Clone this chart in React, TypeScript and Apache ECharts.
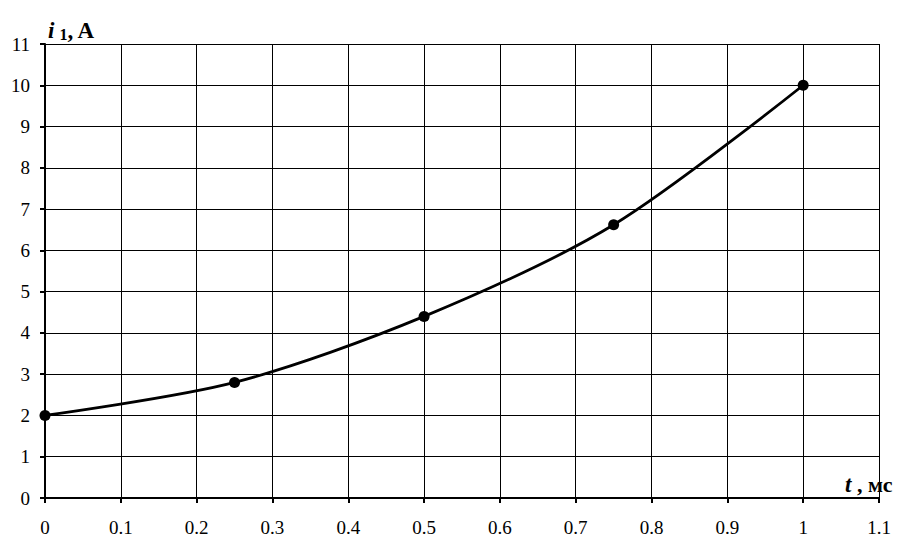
import React, { useEffect, useRef } from "react";
import * as echarts from "echarts";

const tValues = [0, 0.25, 0.5, 0.75, 1];
const iValues = [2, 2.8, 4.4, 6.62, 10];
const xTicks = { min: 0, max: 1.1, interval: 0.1 };
const yTicks = { min: 0, max: 11, interval: 1 };

const FONT = "'Liberation Serif', 'Times New Roman', serif";

export default function App() {
  const ref = useRef<HTMLDivElement>(null);
  useEffect(() => {
    document.body.style.margin = "0";
    const chart = echarts.init(ref.current!, null, { renderer: "svg" });
    const fmt = (v: number) => String(Math.round(v * 10) / 10);
    chart.setOption({
      animation: false,
      backgroundColor: "#fff",
      grid: { left: 45, right: 25, top: 44, bottom: 55 },
      xAxis: {
        type: "value",
        min: xTicks.min,
        max: xTicks.max,
        interval: xTicks.interval,
        axisLine: { onZero: false, lineStyle: { color: "#000", width: 2 } },
        axisTick: { show: true, length: 5, lineStyle: { color: "#000", width: 2 } },
        axisLabel: { color: "#000", fontFamily: FONT, fontSize: 19, margin: 20, formatter: fmt },
        splitLine: { show: true, lineStyle: { color: "#000", width: 1 } },
      },
      yAxis: {
        type: "value",
        min: yTicks.min,
        max: yTicks.max,
        interval: yTicks.interval,
        axisLine: { show: true, onZero: false, lineStyle: { color: "#000", width: 2 } },
        axisTick: { show: true, length: 5, lineStyle: { color: "#000", width: 2 } },
        axisLabel: { color: "#000", fontFamily: FONT, fontSize: 19, margin: 15, formatter: fmt },
        splitLine: { show: true, lineStyle: { color: "#000", width: 1 } },
      },
      graphic: [
        {
          type: "text",
          left: 48,
          top: 19,
          style: {
            text: "{i|i}{s|1}{b|, A}",
            fill: "#000",
            rich: {
              i: { fontFamily: FONT, fontStyle: "italic", fontWeight: "bold", fontSize: 23, fill: "#000" },
              s: { fontFamily: FONT, fontWeight: "bold", fontSize: 16, fill: "#000", padding: [7, 0, 0, 5] },
              b: { fontFamily: FONT, fontWeight: "bold", fontSize: 23, fill: "#000" },
            },
          },
        },
        {
          type: "text",
          left: 845,
          top: 473,
          style: {
            text: "{i|t}{b| , мс}",
            fill: "#000",
            rich: {
              i: { fontFamily: FONT, fontStyle: "italic", fontWeight: "bold", fontSize: 23, fill: "#000" },
              b: { fontFamily: FONT, fontWeight: "bold", fontSize: 22, fill: "#000" },
            },
          },
        },
      ],
      series: [
        {
          type: "line",
          data: tValues.map((t, k) => [t, iValues[k]]),
          smooth: 0.3,
          symbol: "circle",
          symbolSize: 11,
          lineStyle: { color: "#000", width: 2.8 },
          itemStyle: { color: "#000" },
        },
      ],
    });
    return () => chart.dispose();
  }, []);
  return <div ref={ref} style={{ position: "absolute", left: 0, top: 0, width: 904, height: 553 }} />;
}
